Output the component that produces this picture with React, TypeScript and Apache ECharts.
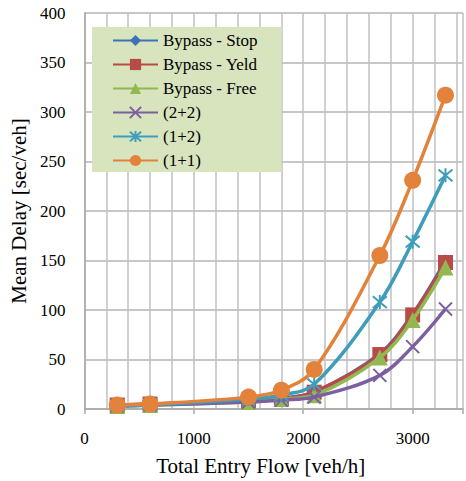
import React, { useEffect, useRef } from "react";
import * as echarts from "echarts";

const flows = [300, 600, 1500, 1800, 2100, 2700, 3000, 3300];
const bypassStop = [4, 5, 8, 11, 17, 56, 96, 150];
const bypassYeld = [4, 5, 8, 10, 17, 55, 95, 148];
const bypassFree = [3, 4, 7, 10, 14, 52, 90, 143];
const twoPlusTwo = [3, 4, 7, 9, 12, 34, 63, 101];
const onePlusTwo = [3, 4, 10, 14, 25, 108, 169, 236];
const onePlusOne = [4, 5, 12, 19, 40, 155, 231, 317];
const seriesNames = ["Bypass - Stop", "Bypass - Yeld", "Bypass - Free", "(2+2)", "(1+2)", "(1+1)"];
const xTickLabels = [0, 1000, 2000, 3000];

const FONT = "Liberation Serif";
const CROSS = "path://M0,0L10,10M10,0L0,10";
const STAR = "path://M0,0L10,10M10,0L0,10M5,-1L5,11";

export default function App() {
  const ref = useRef<HTMLDivElement>(null);
  useEffect(() => {
    const chart = echarts.init(ref.current!, null, { renderer: "svg" });
    const toPts = (arr: number[]) => flows.map((f, i) => [f, arr[i]]);
    const defs = [
      { data: bypassStop, color: "#3F72B5", symbol: "diamond", size: 12 },
      { data: bypassYeld, color: "#B84A47", symbol: "rect", size: 15 },
      { data: bypassFree, color: "#93B852", symbol: "triangle", size: 16 },
      { data: twoPlusTwo, color: "#7B5FA0", symbol: CROSS, size: 13, stroke: true },
      { data: onePlusTwo, color: "#3E9DBB", symbol: STAR, size: 14, stroke: true },
      { data: onePlusOne, color: "#E3823A", symbol: "circle", size: 17 },
    ];
    const series = defs.map((d, i) => ({
      name: seriesNames[i],
      type: "line",
      xAxisIndex: 0,
      data: toPts(d.data),
      smooth: 0.35,
      symbol: d.symbol,
      symbolSize: d.size,
      showSymbol: true,
      lineStyle: { color: d.color, width: 3.5 },
      itemStyle: d.stroke
        ? { color: d.color, borderColor: d.color, borderWidth: 2 }
        : { color: d.color, borderWidth: 0 },
      z: 2 + i,
    }));
    chart.setOption({
      animation: false,
      textStyle: { fontFamily: FONT },
      grid: { left: 84, right: 0, top: 13, bottom: 68, containLabel: false },
      legend: {
        data: seriesNames,
        orient: "vertical",
        left: 92,
        top: 27,
        backgroundColor: "#D7E4BD",
        padding: [5, 24, 3, 20],
        itemWidth: 45,
        itemHeight: 14,
        itemGap: 7,
        textStyle: { fontFamily: FONT, fontSize: 17, color: "#000", lineHeight: 17 },
      },
      xAxis: [
        {
          type: "value",
          min: 0,
          max: 3460,
          interval: 200,
          axisLine: { show: true, lineStyle: { color: "#A8A8A8", width: 1.5 } },
          axisTick: { show: false },
          axisLabel: { show: false },
          splitLine: { show: true, lineStyle: { color: "#C0C0C0", width: 1.5 } },
        },
        {
          type: "value",
          min: 0,
          max: 3460,
          interval: 1000,
          position: "bottom",
          name: "Total Entry Flow [veh/h]",
          nameLocation: "middle",
          nameGap: 46,
          nameTextStyle: { fontFamily: FONT, fontSize: 21, color: "#000", padding: [0, 26, 0, 0] },
          axisLine: { show: false },
          axisTick: { show: true, length: 5, lineStyle: { color: "#A8A8A8", width: 1.5 } },
          axisLabel: {
            fontFamily: FONT,
            fontSize: 17,
            color: "#000",
            margin: 21,
            formatter: (v: number) => (xTickLabels.includes(v) ? String(v) : ""),
          },
          splitLine: { show: false },
        },
      ],
      yAxis: {
        type: "value",
        min: 0,
        max: 400,
        interval: 50,
        name: "Mean Delay [sec/veh]",
        nameLocation: "middle",
        nameGap: 54,
        nameTextStyle: { fontFamily: FONT, fontSize: 21, color: "#000" },
        axisLine: { show: true, lineStyle: { color: "#A8A8A8", width: 1.5 } },
        axisTick: { show: false },
        axisLabel: { fontFamily: FONT, fontSize: 17, color: "#000", margin: 19 },
        splitLine: { show: true, lineStyle: { color: "#B4B4B4", width: 1.5 } },
      },
      series,
    });
    return () => chart.dispose();
  }, []);
  return <div ref={ref} style={{ width: 466, height: 481, position: "absolute", left: 0, top: 0, background: "#fff" }} />;
}
